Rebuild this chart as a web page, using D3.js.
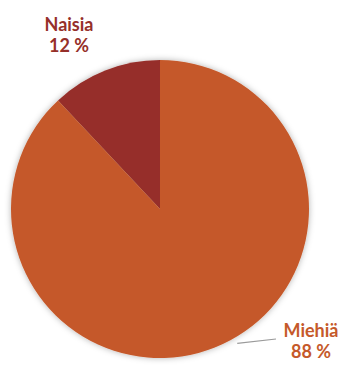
<!DOCTYPE html>
<html>
<head>
<meta charset="utf-8">
<script src="https://cdn.jsdelivr.net/npm/d3@7"></script>
<style>
  body { margin: 0; background: #fff; }
  text { font-family: Lato, "Open Sans", sans-serif; font-weight: bold; }
</style>
</head>
<body>
<div class="pie-chart"></div>
<script>
// data
var labels = ["Naisia", "Miehiä"];
var values = [12, 88];
var colors = ["#962F2A", "#C5592A"];

var width = 344, height = 369;
var cx = 160, cy = 209, radius = 149;

var svg = d3.select(".pie-chart").append("svg")
  .attr("width", width)
  .attr("height", height);

// soft shadow round the pie
var defs = svg.append("defs");
var f = defs.append("filter").attr("id", "shadow")
  .attr("x", "-10%").attr("y", "-10%").attr("width", "120%").attr("height", "120%");
f.append("feDropShadow")
  .attr("dx", 0).attr("dy", 0)
  .attr("stdDeviation", 3)
  .attr("flood-color", "#000")
  .attr("flood-opacity", 0.3);

var pie = d3.pie().sort(null)
  .startAngle(0).endAngle(-2 * Math.PI); // counter-clockwise from 12 o'clock
var arcs = pie(values);

var arc = d3.arc().innerRadius(0).outerRadius(radius);

var g = svg.append("g")
  .attr("transform", "translate(" + cx + "," + cy + ")")
  .attr("filter", "url(#shadow)");

g.selectAll("path")
  .data(arcs)
  .enter().append("path")
  .attr("d", arc)
  .attr("fill", function(d, i) { return colors[i]; });

// leader line for Miehiä, starts just outside the rim
var outer = d3.arc().innerRadius(radius + 6).outerRadius(radius + 6);
var a = 2.62;
var p = outer.centroid({startAngle: a, endAngle: a});
svg.append("line")
  .attr("x1", cx + p[0]).attr("y1", cy + p[1])
  .attr("x2", 276).attr("y2", 339)
  .attr("stroke", "#9a9a9a")
  .attr("stroke-width", 1.2);

// labels
var labelPos = [[69, 31, 52], [311, 337, 358]];
labels.forEach(function(l, i) {
  var t = svg.append("text")
    .attr("text-anchor", "middle")
    .attr("fill", colors[i])
    .attr("font-size", 18);
  t.append("tspan").attr("x", labelPos[i][0]).attr("y", labelPos[i][1]).text(l);
  t.append("tspan").attr("x", labelPos[i][0]).attr("y", labelPos[i][2]).text(values[i] + " %");
});
</script>
</body>
</html>
